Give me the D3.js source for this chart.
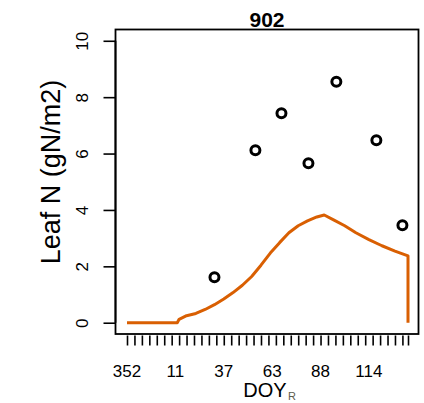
<!DOCTYPE html>
<html>
<head>
<meta charset="utf-8">
<script src="https://cdn.jsdelivr.net/npm/d3@7"></script>
<style>
  html, body { margin: 0; padding: 0; background: #fff; }
  svg { display: block; font-family: "Liberation Sans", Arial, Helvetica, sans-serif; }
</style>
</head>
<body>
<svg id="chart" width="424" height="403"></svg>
<script>
// Modelled leaf N through the season (days counted from DOY 352)
const modelDays   = [0, 27, 28, 32, 37, 42, 47, 52, 57, 62, 67, 72, 77, 82, 87, 92, 97, 102, 106, 111, 117, 123, 130, 137, 144, 151, 151];
const modelLeafN  = [0, 0, 0.12, 0.25, 0.33, 0.47, 0.64, 0.84, 1.07, 1.33, 1.64, 2.04, 2.47, 2.84, 3.19, 3.44, 3.61, 3.75, 3.82, 3.65, 3.44, 3.19, 2.95, 2.73, 2.54, 2.37, 0];

// Observed leaf N
const obsDays  = [47, 69, 83, 97.5, 112.5, 134, 148];
const obsLeafN = [1.61, 6.12, 7.43, 5.66, 8.55, 6.47, 3.46];

// Axis ticks and labels
const xTickDays   = d3.range(0, 149, 4).concat([151]);
const xLabelDays  = [0, 26, 52, 78, 104, 130];
const xLabelText  = ["352", "11", "37", "63", "88", "114"];
const yTicks      = [0, 2, 4, 6, 8, 10];

const svg = d3.select("#chart");
const box = { left: 115.5, right: 418.5, top: 29.5, bottom: 334 };

const x = d3.scaleLinear().domain([0, 151]).range([127, 408]);
const y = d3.scaleLinear().domain([-0.4, 10.4]).range([box.bottom, box.top]);

// Title
svg.append("text")
  .attr("x", (box.left + box.right) / 2)
  .attr("y", 26.5)
  .attr("text-anchor", "middle")
  .attr("font-size", 21)
  .attr("font-weight", "bold")
  .text("902");

// Plot frame
svg.append("rect")
  .attr("x", box.left).attr("y", box.top)
  .attr("width", box.right - box.left).attr("height", box.bottom - box.top)
  .attr("fill", "none").attr("stroke", "#000").attr("stroke-width", 1.8);

// Y axis: ticks to the left, labels rotated
const yAxis = d3.axisLeft(y).tickValues(yTicks).tickSize(12).tickPadding(4).tickFormat(d3.format("d"));
const yg = svg.append("g").attr("transform", `translate(${box.left},0)`).call(yAxis);
yg.select(".domain").attr("stroke-width", 1.8).attr("d", `M0,${y(0)}V${y(10)}`);
yg.selectAll(".tick line").attr("stroke-width", 1.6);
yg.selectAll(".tick text")
  .attr("font-size", 17)
  .attr("fill", "#000")
  .attr("text-anchor", "middle")
  .attr("x", null).attr("dy", null)
  .attr("transform", "translate(-28,0) rotate(-90)");

// X axis: dense ticks below the frame
const xAxis = d3.axisBottom(x).tickValues(xTickDays).tickSize(10).tickFormat("");
const xg = svg.append("g").attr("transform", `translate(0,${box.bottom + 1.5})`).call(xAxis);
xg.select(".domain").remove();
xg.selectAll(".tick line").attr("stroke-width", 1.6);

// X labels (DOY)
svg.append("g").selectAll("text")
  .data(xLabelDays)
  .join("text")
  .attr("x", d => x(d))
  .attr("y", 376.5)
  .attr("text-anchor", "middle")
  .attr("font-size", 17)
  .text((d, i) => xLabelText[i]);

// Axis titles
svg.append("text")
  .attr("transform", "translate(60,172) rotate(-90)")
  .attr("text-anchor", "middle")
  .attr("font-size", 27)
  .text("Leaf N (gN/m2)");

svg.append("text")
  .attr("x", 265)
  .attr("y", 397)
  .attr("text-anchor", "middle")
  .attr("font-size", 20)
  .text("DOY");

svg.append("text")
  .attr("x", 288)
  .attr("y", 400)
  .attr("font-size", 11)
  .attr("fill", "#5c5c4c")
  .text("R");

// Model line
const modelPts = modelDays.map((d, i) => [d, modelLeafN[i]]);
svg.append("path")
  .datum(modelPts)
  .attr("fill", "none")
  .attr("stroke", "#d95f02")
  .attr("stroke-width", 3)
  .attr("stroke-linejoin", "round")
  .attr("d", d3.line().x(d => x(d[0])).y(d => y(d[1])));

// Observations
svg.append("g").selectAll("circle")
  .data(obsDays.map((d, i) => [d, obsLeafN[i]]))
  .join("circle")
  .attr("cx", d => x(d[0]))
  .attr("cy", d => y(d[1]))
  .attr("r", 4.5)
  .attr("fill", "none")
  .attr("stroke", "#000")
  .attr("stroke-width", 3);
</script>
</body>
</html>
